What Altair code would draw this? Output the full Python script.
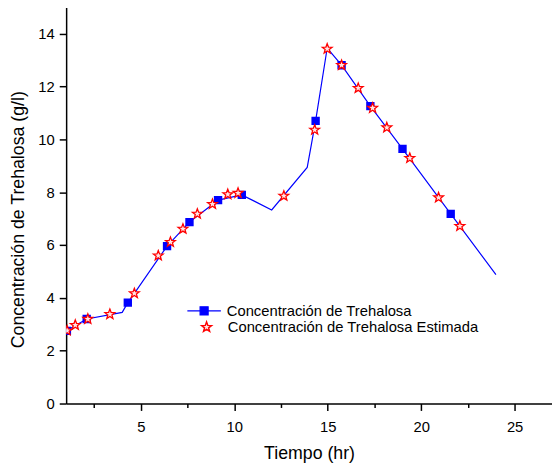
import altair as alt
import pandas as pd

FONT = "Liberation Sans"
S1 = "Concentración de Trehalosa"
S2 = "Concentración de Trehalosa Estimada"

# measured (squares)
t_meas = [1.04, 2.1, 4.3, 6.4, 7.6, 9.13, 10.4, 14.35, 15.74, 17.28, 19.0, 21.58]
c_meas = [2.75, 3.2, 3.82, 5.96, 6.87, 7.70, 7.9, 10.7, 12.81, 11.26, 9.64, 7.18]

# estimated (stars)
t_est = [1.05, 1.49, 2.16, 3.34, 4.65, 5.93, 6.58, 7.25, 8.02, 8.83, 9.65, 10.2,
         12.65, 14.3, 14.97, 15.74, 16.63, 17.4, 18.16, 19.39, 20.93, 22.07]
c_est = [2.76, 2.97, 3.2, 3.38, 4.17, 5.6, 6.11, 6.61, 7.18, 7.55, 7.92, 7.97,
         7.86, 10.36, 13.43, 12.81, 11.94, 11.19, 10.45, 9.29, 7.8, 6.72]

# curve vertices
t_line = [1.0, 2.1, 4.0, 4.3, 4.65, 6.4, 7.6, 9.13, 10.4, 12.0, 13.9, 14.12,
          14.35, 14.97, 15.74, 17.28, 19.0, 21.58, 24.0]
c_line = [2.75, 3.2, 3.45, 3.82, 4.17, 5.96, 6.87, 7.70, 7.9, 7.33, 8.94, 9.79,
          10.7, 13.46, 12.81, 11.26, 9.64, 7.18, 4.88]

x_ticks = [2.5, 5, 7.5, 10, 12.5, 15, 17.5, 20, 22.5, 25]
y_ticks = list(range(0, 15))

df_line = pd.DataFrame({"t": t_line, "c": c_line, "serie": S1})
df_meas = pd.DataFrame({"t": t_meas, "c": c_meas})
df_est = pd.DataFrame({"t": t_est, "c": c_est, "serie": S2})

STAR = ("M0,-1L0.2469,-0.3398L0.9511,-0.309L0.3995,0.1298L0.5878,0.809L0,0.42"
        "L-0.5878,0.809L-0.3995,0.1298L-0.9511,-0.309L-0.2469,-0.3398Z")
LINE_SQ = "M-1,0H1M-0.24,-0.24H0.24V0.24H-0.24Z"

xscale = alt.Scale(domain=[1, 27], nice=False, zero=False)
yscale = alt.Scale(domain=[0, 15], nice=False)

common_axis = dict(
    grid=False, domainColor="black", domainWidth=1.5, tickColor="black",
    tickWidth=1.5, labelFont=FONT, labelFontSize=15, labelColor="black",
    titleFont=FONT, titleFontSize=18, titleFontWeight="normal", titleColor="black",
    labelOverlap=False, labelFlush=False,
)

xaxis = alt.Axis(
    values=x_ticks,
    labelExpr="datum.value % 5 === 0 ? datum.label : ''",
    tickSize={"condition": {"test": "datum.value % 5 === 0", "value": 7}, "value": 4},
    labelPadding=9, titleY=51, titleBaseline="middle",
    **common_axis,
)
yaxis = alt.Axis(
    values=y_ticks,
    labelExpr="datum.value % 2 === 0 ? datum.label : ''",
    tickSize={"condition": {"test": "datum.value % 2 === 0", "value": 7}, "value": 4},
    labelPadding=5, titleX=-48, titleY=215, titleAngle=270,
    titleBaseline="middle", titleAlign="center",
    **common_axis,
)

line = alt.Chart(df_line).mark_line(color="#0000ff", strokeWidth=1.2, clip=True).encode(
    x=alt.X("t:Q", scale=xscale, axis=xaxis, title="Tiempo (hr)"),
    y=alt.Y("c:Q", scale=yscale, axis=yaxis, title="Concentración de Trehalosa (g/l)"),
    stroke=alt.Stroke(
        "serie:N",
        scale=alt.Scale(domain=[S1], range=["#0000ff"]),
        legend=alt.Legend(
            title=None, orient="none", legendX=122, legendY=290,
            symbolType=LINE_SQ, symbolSize=1156, symbolStrokeWidth=1.2,
            symbolFillColor="#0000ff", labelFont=FONT, labelFontSize=15,
            labelColor="black", labelOffset=5, padding=0, labelLimit=0,
        ),
    ),
)

squares = alt.Chart(df_meas).mark_square(
    color="#0000ff", size=72, opacity=1, clip=True
).encode(
    x=alt.X("t:Q", scale=xscale),
    y=alt.Y("c:Q", scale=yscale),
)

stars = alt.Chart(df_est).mark_point(
    filled=True, fill="#ffe4e4", stroke="#ff0000",
    strokeWidth=1.3, size=110, opacity=1, clip=True
).encode(
    x=alt.X("t:Q", scale=xscale),
    y=alt.Y("c:Q", scale=yscale),
    shape=alt.Shape(
        "serie:N",
        scale=alt.Scale(domain=[S2], range=[STAR]),
        legend=alt.Legend(
            title=None, orient="none", legendX=135, legendY=317,
            symbolSize=110, labelFont=FONT, labelFontSize=15,
            labelColor="black", labelOffset=14, padding=0, labelLimit=0,
        ),
    ),
)

chart = alt.layer(line, squares, stars).properties(
    width=493, height=402,
    autosize=alt.AutoSizeParams(type="none"),
    padding={"left": 59, "top": -4, "right": 0, "bottom": 57},
    background="white",
).configure_view(stroke=None)

chart.save("out.html", embed_options={"renderer": "svg", "actions": False})
